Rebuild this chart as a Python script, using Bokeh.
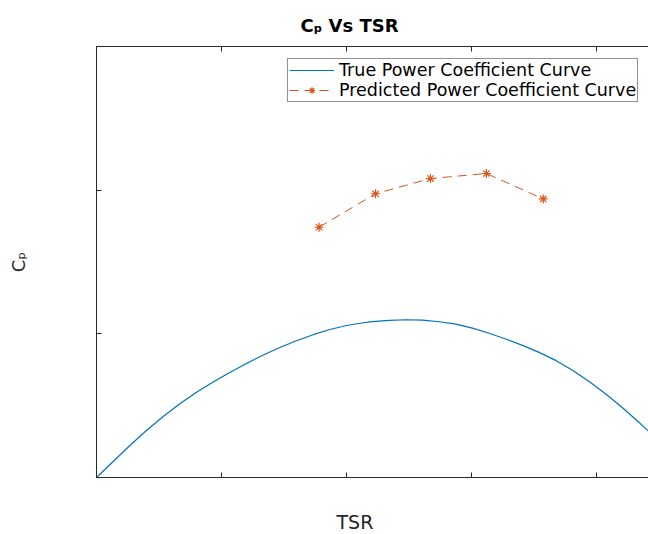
from bokeh.plotting import figure
from bokeh.models import Range1d, LinearAxis, FixedTicker, Legend, LegendItem, Title
from bokeh.embed import file_html
from bokeh.resources import INLINE

# ---- data ----
tsr_true = [0.0, 0.134, 0.267, 0.400, 0.534, 0.667, 0.801, 0.934, 1.067, 1.201,
            1.335, 1.468, 1.601, 1.735, 1.868, 2.002, 2.135, 2.210, 2.343, 2.476,
            2.610, 2.744, 2.877, 3.010, 3.144, 3.277, 3.411, 3.544, 3.677, 3.811,
            3.945, 4.078, 4.212, 4.345, 4.420]
cp_true = [0.0, 0.111, 0.223, 0.327, 0.425, 0.513, 0.594, 0.665, 0.731, 0.794,
           0.853, 0.905, 0.952, 0.994, 1.030, 1.058, 1.077, 1.085, 1.094, 1.098,
           1.095, 1.084, 1.067, 1.040, 1.004, 0.964, 0.920, 0.871, 0.815, 0.746,
           0.668, 0.581, 0.486, 0.383, 0.322]
tsr_pred = [1.782, 2.234, 2.674, 3.122, 3.577]
cp_pred = [1.742, 1.975, 2.081, 2.116, 1.939]
x_ticks = [0, 1, 2, 3, 4]
y_ticks = [0, 1, 2, 3]
title_text = "C\u209a Vs TSR"
xlabel = "TSR"
ylabel = "C\u209a"
legend_labels = ["True Power Coefficient Curve", "Predicted Power Coefficient Curve"]

AX = "#262626"
BLUE = "#0072BD"
ORANGE = "#D95319"
FONT = "DejaVu Sans"

p = figure(width=648, height=534, output_backend="svg", toolbar_location=None,
           x_range=Range1d(0, 4.42), y_range=Range1d(0, 3.0),
           min_border_left=96, min_border_right=0, min_border_top=46, min_border_bottom=57,
           x_axis_type=None, y_axis_type=None)
p.outline_line_color = None
p.grid.visible = False
p.background_fill_color = "white"
p.border_fill_color = "white"

p.title.text = title_text
p.title.align = "left"
p.title.offset = 204
p.title.text_font = FONT
p.title.text_font_size = "18px"
p.title.text_font_style = "bold"
p.title.text_color = "black"
p.title.standoff = 22


def make_axis(ticks):
    ax = LinearAxis(ticker=FixedTicker(ticks=ticks))
    ax.axis_line_color = AX
    ax.axis_line_width = 1
    ax.major_tick_line_color = AX
    ax.major_tick_in = 5
    ax.major_tick_out = 0
    ax.minor_tick_line_color = None
    ax.major_label_text_color = None
    ax.major_label_standoff = 0
    ax.axis_label_text_font = FONT
    ax.axis_label_text_font_style = "normal"
    ax.axis_label_text_color = AX
    return ax


xb = make_axis(x_ticks)
p.add_layout(xb, "below")

# invisible spacer between the bottom axis and the x label
spacer = LinearAxis(ticker=FixedTicker(ticks=[0]))
spacer.axis_line_color = None
spacer.major_tick_line_color = None
spacer.minor_tick_line_color = None
spacer.major_label_text_color = None
spacer.major_tick_in = 0
spacer.major_tick_out = 31
spacer.major_label_standoff = 0
p.add_layout(spacer, "below")

xlab = Title(text=xlabel, align="left", offset=240, standoff=1, vertical_align="bottom",
             text_font=FONT, text_font_size="19px", text_font_style="normal",
             text_color=AX)
p.add_layout(xlab, "below")

xt = make_axis(x_ticks)
p.add_layout(xt, "above")

yl = make_axis(y_ticks)
yl.axis_label = ylabel
yl.axis_label_text_font_size = "18px"
yl.axis_label_standoff = 68
p.add_layout(yl, "left")

r_true = p.line(tsr_true, cp_true, line_color=BLUE, line_width=1.2)
r_pred_line = p.line(tsr_pred, cp_pred, line_color=ORANGE, line_width=1, line_dash="9 6")
r_pred_pts = p.scatter(tsr_pred, cp_pred, marker="asterisk", size=9,
                       line_color=ORANGE, line_width=1.2)

legend = Legend(items=[LegendItem(label=legend_labels[0], renderers=[r_true]),
                       LegendItem(label=legend_labels[1], renderers=[r_pred_line, r_pred_pts])],
                location=(191, 375))
legend.label_text_font = FONT
legend.label_text_font_size = "17.5px"
legend.label_text_color = "black"
legend.glyph_width = 45
legend.glyph_height = 16
legend.label_height = 16
legend.label_standoff = 5
legend.padding = 1
legend.spacing = 0
legend.margin = 0
legend.border_line_color = AX
legend.border_line_width = 1
legend.background_fill_color = "white"
legend.background_fill_alpha = 1
p.add_layout(legend)

open("out.html", "w").write(file_html(p, INLINE))
